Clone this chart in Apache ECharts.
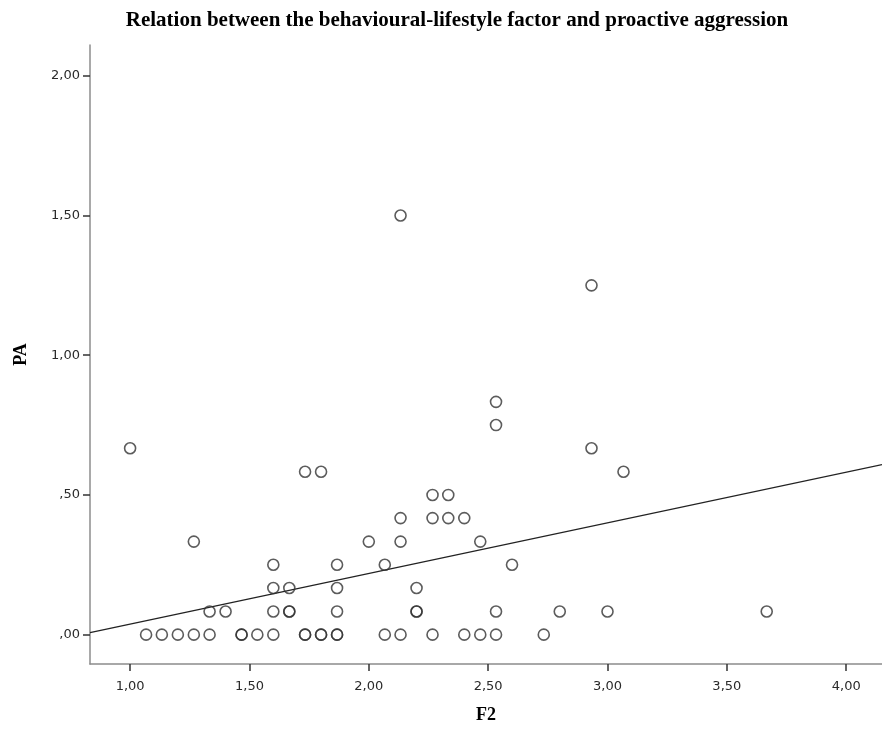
<!DOCTYPE html>
<html>
<head>
<meta charset="utf-8">
<style>html,body{margin:0;padding:0;background:#fff}#chart{width:882px;height:729px}</style>
<script src="https://cdn.jsdelivr.net/npm/echarts@6/dist/echarts.min.js"></script>
</head>
<body>
<div id="chart"></div>
<script>
// F2 (x) and PA (y) values, paired by index
const f2Values = [
  1.067,1.133,1.2,1.267,1.333,1.467,1.467,1.533,1.6,1.733,1.733,1.8,1.8,1.867,1.867,2.067,2.133,2.267,2.4,2.467,2.533,2.733,
  1.333,1.4,1.6,1.667,1.667,1.867,2.2,2.2,2.533,2.8,3.0,3.667,
  1.6,1.667,1.867,2.2,
  1.6,1.867,2.067,2.6,
  1.267,2.0,2.133,2.467,
  2.133,2.267,2.333,2.4,
  2.267,2.333,
  1.733,1.8,3.067,
  1.0,2.933,
  2.533,
  2.533,
  2.933,
  2.133
];
const paValues = [
  0,0,0,0,0,0,0,0,0,0,0,0,0,0,0,0,0,0,0,0,0,0,
  0.083,0.083,0.083,0.083,0.083,0.083,0.083,0.083,0.083,0.083,0.083,0.083,
  0.167,0.167,0.167,0.167,
  0.25,0.25,0.25,0.25,
  0.333,0.333,0.333,0.333,
  0.417,0.417,0.417,0.417,
  0.5,0.5,
  0.583,0.583,0.583,
  0.667,0.667,
  0.75,
  0.833,
  1.25,
  1.5
];
// Fit line: PA = fitIntercept + fitSlope * F2
const fitIntercept = -0.143;
const fitSlope = 0.181;
const xTicks = [1.0,1.5,2.0,2.5,3.0,3.5,4.0];
const yTicks = [0,0.5,1.0,1.5,2.0];

const xMin = 0.832, xMax = 4.15, yMin = -0.105, yMax = 2.11;

function spssFmt(v){
  let s = Number(v).toFixed(2).replace('.', ',');
  if (s.startsWith('0,')) s = s.slice(1);
  return s;
}

const points = f2Values.map((x,i)=>[x, paValues[i]]);
const fitLine = [[xMin, fitIntercept + fitSlope*xMin],[xMax, fitIntercept + fitSlope*xMax]];

const chart = echarts.init(document.getElementById('chart'), null, {renderer:'canvas'});
const labelStyle = {fontFamily:'DejaVu Sans', fontSize:13, color:'#2a2a2a'};
const nameStyle = {fontFamily:'Liberation Serif', fontWeight:'bold', fontSize:18, color:'#000'};
chart.setOption({
  animation:false,
  backgroundColor:'#fff',
  title:{
    text:'Relation between the behavioural-lifestyle factor and proactive aggression',
    left:452, top:5, textAlign:'center',
    textStyle:{fontFamily:'Liberation Serif', fontWeight:'bold', fontSize:21, color:'#000'}
  },
  grid:{left:90, right:0, top:45, bottom:64, containLabel:false},
  xAxis:{
    type:'value', min:xMin, max:xMax,
    name:'F2', nameLocation:'middle', nameGap:42,
    nameTextStyle:nameStyle,
    axisLine:{show:true, onZero:false, lineStyle:{color:'#8c8c8c', width:1.5}},
    axisTick:{show:true, customValues:xTicks, length:7, lineStyle:{color:'#333', width:1.5}},
    axisLabel:Object.assign({customValues:xTicks, formatter:spssFmt, margin:16}, labelStyle),
    splitLine:{show:false}
  },
  yAxis:{
    type:'value', min:yMin, max:yMax,
    name:'PA', nameLocation:'middle', nameGap:60,
    nameTextStyle:nameStyle,
    axisLine:{show:true, onZero:false, lineStyle:{color:'#8c8c8c', width:1.5}},
    axisTick:{show:true, customValues:yTicks, length:7, lineStyle:{color:'#333', width:1.5}},
    axisLabel:Object.assign({customValues:yTicks, formatter:spssFmt, margin:10}, labelStyle),
    splitLine:{show:false}
  },
  series:[
    {
      type:'line', data:fitLine, symbol:'none', silent:true, z:1,
      lineStyle:{color:'#222', width:1.3}
    },
    {
      type:'scatter', data:points, symbol:'circle', symbolSize:11, z:2,
      itemStyle:{color:'rgba(0,0,0,0)', borderColor:'#333', borderWidth:1.6}
    }
  ]
});
</script>
</body>
</html>
